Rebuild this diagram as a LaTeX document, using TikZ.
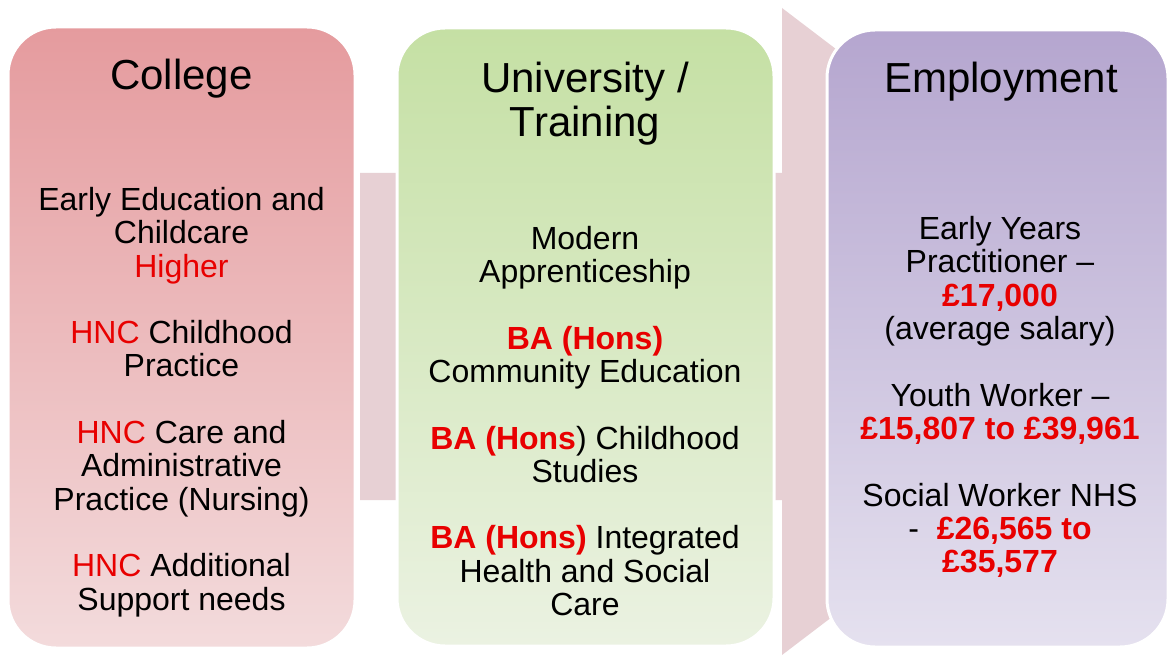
\documentclass[tikz,border=0pt]{standalone}
\usepackage{fontspec}
\setmainfont{Liberation Sans}
\definecolor{arrowpink}{RGB}{231,208,212}
\definecolor{colTop}{RGB}{229,155,158}
\definecolor{colBot}{RGB}{243,219,220}
\definecolor{uniTop}{RGB}{197,224,164}
\definecolor{uniBot}{RGB}{235,242,226}
\definecolor{empTop}{RGB}{181,166,207}
\definecolor{empBot}{RGB}{229,225,239}
\definecolor{hired}{RGB}{232,0,0}
\newcommand\rd[1]{\textcolor{hired}{#1}}
\newcommand\rb[1]{\textcolor{hired}{\bfseries #1}}
\tikzset{
  panel/.style={rectangle, rounded corners=48pt, draw=white, line width=3pt, inner sep=0pt},
  titletext/.style={align=center, font=\fontsize{42}{44.5}\selectfont, text=black},
  bodytext/.style={align=center, font=\fontsize{32}{33.3}\selectfont, text=black}
}
\begin{document}
\begin{tikzpicture}[x=1pt,y=-1pt]
\useasboundingbox (0,0) rectangle (1171,655);
\fill[white] (0,0) rectangle (1171,655);
\begin{scope}
\clip (0,0) rectangle (1166,655);
\fill[arrowpink] (360,173) -- (782,173) -- (782,8) -- (1207,331.5) -- (782,655) -- (782,500) -- (360,500) -- cycle;
\end{scope}
% panels
\node[panel, top color=colTop, bottom color=colBot, minimum width=347pt, minimum height=621pt] (college) at (181.5,337.5) {};
\node[panel, top color=uniTop, bottom color=uniBot, minimum width=377pt, minimum height=618pt] (uni) at (585.5,337) {};
\node[panel, top color=empTop, bottom color=empBot, minimum width=341pt, minimum height=617pt] (emp) at (997.5,338.5) {};
% titles
\node[titletext] (tcol) at (181.5,79) {College};
\node[titletext] (tuni) at (585,103.5) {University /\\Training};
\node[titletext] (temp) at (1001,82) {Employment};
% bodies
\node[bodytext] (bcol) at (181.5,402) {Early Education and\\Childcare\\\rd{Higher}\\[33.3pt]\rd{HNC} Childhood\\Practice\\[33.3pt]\rd{HNC} Care and\\Administrative\\Practice (Nursing)\\[33.3pt]\rd{HNC} Additional\\Support needs};
\node[bodytext] (buni) at (585,421) {Modern\\Apprenticeship\\[33.3pt]\rb{BA (Hons)}\\Community Education\\[33.3pt]\rb{BA (Hons}) Childhood\\Studies\\[33.3pt]\rb{BA (Hons)} Integrated\\Health and Social\\Care};
\node[bodytext] (bemp) at (1000,397) {Early Years\\Practitioner --\\\rb{£17,000}\\(average salary)\\[33.3pt]Youth Worker --\\\rb{£15,807 to £39,961}\\[33.3pt]Social Worker NHS\\-~ \rb{£26,565 to}\\\rb{£35,577}};
\end{tikzpicture}
\end{document}
